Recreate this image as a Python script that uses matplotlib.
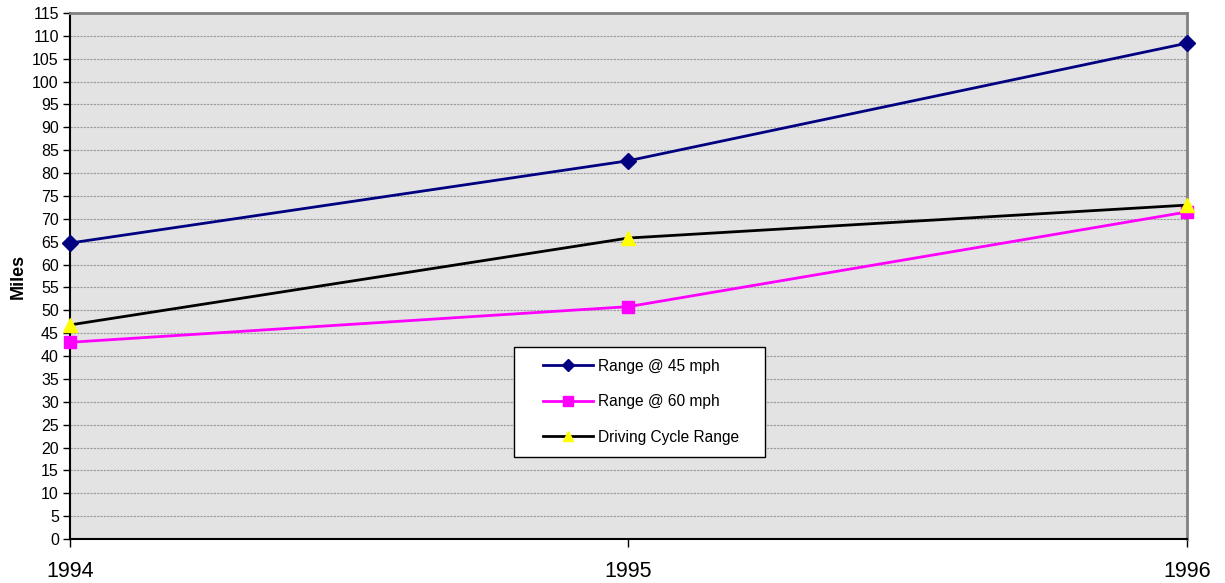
import matplotlib
matplotlib.use("Agg")
import matplotlib.pyplot as plt
from matplotlib.patches import Rectangle

# values
years = [1994, 1995, 1996]
range_45 = [64.7, 82.7, 108.4]
range_60 = [43.0, 50.8, 71.5]
cycle_range = [46.8, 65.8, 73.0]
y_ticks = list(range(0, 120, 5))

plt.rcParams['font.family'] = ['Liberation Sans', 'DejaVu Sans']

fig = plt.figure(figsize=(12.25, 5.83), dpi=100)
ax = fig.add_axes([0.0571, 0.0755, 0.9118, 0.9022])
ax.set_facecolor('#e3e3e3')

ax.plot(years, range_45, color='#000080', lw=2, marker='D', ms=8,
        mfc='#000080', mec='#000080', label='Range @ 45 mph', clip_on=False, zorder=3)
ax.plot(years, range_60, color='#ff00ff', lw=2, marker='s', ms=9,
        mfc='#ff00ff', mec='#ff00ff', label='Range @ 60 mph', clip_on=False, zorder=3)
ax.plot(years, cycle_range, color='black', lw=2, marker='^', ms=10,
        mfc='#ffff00', mec='#ffff00', label='Driving Cycle Range', clip_on=False, zorder=4)

ax.set_xlim(1994, 1996)
ax.set_ylim(0, 115)
ax.set_xticks(years)
ax.set_xticklabels([str(y) for y in years], fontsize=15.5)
ax.set_yticks(y_ticks)
ax.set_yticklabels([str(t) for t in y_ticks], fontsize=11.5)
ax.tick_params(axis='y', length=5, width=1, pad=3)
ax.tick_params(axis='x', length=6, width=1, pad=10)
ax.yaxis.grid(True, color='#9a9a9a', linestyle=(0, (2, 1)), lw=0.8)
ax.set_axisbelow(True)

for s in ['left', 'bottom']:
    ax.spines[s].set_color('black')
    ax.spines[s].set_linewidth(1.5)
for s in ['top', 'right']:
    ax.spines[s].set_color('#808080')
    ax.spines[s].set_linewidth(2)

ax.set_ylabel('Miles', fontsize=13, fontweight='bold', labelpad=4)

# legend box
box = Rectangle((0.398, 0.156), 0.224, 0.209, transform=ax.transAxes,
                facecolor='white', edgecolor='black', lw=1, zorder=5)
ax.add_patch(box)
leg = ax.legend(loc='center left', bbox_to_anchor=(0.4235, 0.2610),
                frameon=False, fontsize=11.2, markerscale=0.75,
                handlelength=3.2, labelspacing=1.33, borderpad=0,
                handletextpad=0.35, borderaxespad=0)
leg.set_zorder(6)

fig.savefig('out.png', dpi=100, facecolor='white')
